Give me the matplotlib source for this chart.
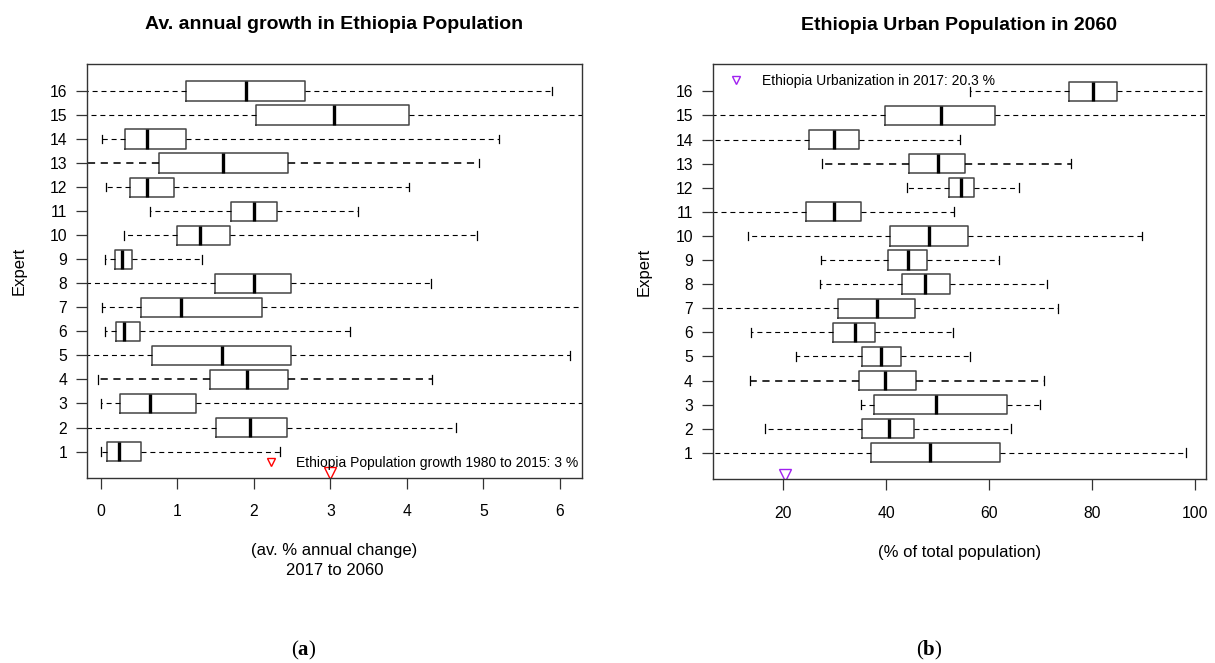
import matplotlib
matplotlib.use("Agg")
import matplotlib.pyplot as plt
from matplotlib.lines import Line2D

plt.rcParams["font.family"] = ["Liberation Sans", "DejaVu Sans"]
plt.rcParams["mathtext.fontset"] = "custom"
plt.rcParams["mathtext.rm"] = "Liberation Serif"
plt.rcParams["mathtext.bf"] = "Liberation Serif:bold"

experts = list(range(1, 17))

# (a) average annual growth, % per year, experts 1..16
growth_lo = [0.00, -0.5, 0.00, -0.03, -0.5, 0.05, 0.01, -0.5, 0.05, 0.31, 0.64, 0.07, -0.5, 0.01, -0.5, -0.5]
growth_q1 = [0.08, 1.50, 0.25, 1.43, 0.67, 0.20, 0.52, 1.49, 0.18, 0.99, 1.70, 0.38, 0.76, 0.32, 2.03, 1.12]
growth_med = [0.24, 1.95, 0.64, 1.91, 1.59, 0.31, 1.05, 2.00, 0.28, 1.30, 2.00, 0.61, 1.60, 0.61, 3.05, 1.90]
growth_q3 = [0.53, 2.44, 1.25, 2.45, 2.49, 0.51, 2.11, 2.49, 0.41, 1.69, 2.31, 0.96, 2.45, 1.11, 4.03, 2.67]
growth_hi = [2.34, 4.64, 6.6, 4.33, 6.13, 3.26, 6.6, 4.31, 1.32, 4.92, 3.36, 4.03, 4.94, 5.21, 6.6, 5.90]
growth_hist = 3.0
growth_label = "Ethiopia Population growth 1980 to 2015: 3 %"

# (b) urban share in 2060, % of total population
urban_lo = [2, 16.4, 35.0, 13.6, 22.5, 13.8, 2, 27.1, 27.3, 13.1, 2, 44.0, 27.6, 2, 2, 56.3]
urban_q1 = [37.1, 35.2, 37.7, 34.8, 35.2, 29.7, 30.7, 43.0, 40.3, 40.8, 24.5, 52.1, 44.5, 25.0, 39.8, 75.4]
urban_med = [48.5, 40.5, 49.6, 39.8, 39.0, 33.9, 38.3, 47.6, 44.3, 48.4, 29.8, 54.6, 50.1, 29.9, 50.6, 80.1]
urban_q3 = [62.0, 45.4, 63.4, 45.7, 42.8, 37.8, 45.6, 52.3, 47.9, 55.9, 35.0, 57.0, 55.3, 34.8, 61.2, 84.8]
urban_hi = [98.3, 64.3, 69.9, 70.6, 56.3, 53.0, 73.3, 71.2, 61.9, 89.7, 53.2, 65.7, 75.8, 54.3, 110, 110]
urban_2017 = 20.3
urban_label = "Ethiopia Urbanization in 2017: 20.3 %"

bold_rows = [4, 13]


def draw_panel(ax, lo, q1, med, q3, hi, xlim, xticks):
    stats = []
    for i in range(len(experts)):
        stats.append({"whislo": lo[i], "q1": q1[i], "med": med[i],
                      "q3": q3[i], "whishi": hi[i], "fliers": []})
    bp = ax.bxp(stats, positions=experts, vert=False, widths=0.8,
                capwidths=0.36, showfliers=False, patch_artist=False,
                boxprops=dict(color="#444444", lw=1.1),
                medianprops=dict(color="black", lw=2.4, solid_capstyle="butt"),
                whiskerprops=dict(color="black", lw=0.8, linestyle=(0, (4.5, 3.5))),
                capprops=dict(color="black", lw=0.9))
    for k, e in enumerate(experts):
        if e in bold_rows:
            for w in bp["whiskers"][2 * k:2 * k + 2]:
                w.set_linewidth(1.15)
    ax.set_xlim(*xlim)
    ax.set_ylim(-0.1, 17.12)
    ax.set_xticks(xticks)
    ax.set_yticks(experts)
    ax.set_yticklabels([str(e) for e in experts])
    ax.tick_params(axis="y", length=7.7, width=0.9, pad=6.5, labelsize=11.3, color="#333333")
    ax.tick_params(axis="x", length=8, width=0.9, pad=11, labelsize=11.3, color="#333333")
    for s in ax.spines.values():
        s.set_color("#333333")
        s.set_linewidth(1.0)
    ax.set_ylabel("Expert", fontsize=12)


fig = plt.figure(figsize=(12.15, 6.63), dpi=100)
ax1 = fig.add_axes([0.0716, 0.279, 0.4074, 0.6244])
ax2 = fig.add_axes([0.5866, 0.277, 0.4060, 0.6260])

draw_panel(ax1, growth_lo, growth_q1, growth_med, growth_q3, growth_hi,
           (-0.18, 6.29), [0, 1, 2, 3, 4, 5, 6])
ax1.plot([growth_hist], [0.1], marker="v", ms=8, mfc="none", mec="red", mew=1.0, ls="none")
ax1.legend(handles=[Line2D([], [], marker="v", ms=5.5, mfc="none", mec="red", mew=1.0, ls="none")],
           labels=[growth_label], loc="center left", bbox_to_anchor=(0.344, 0.036),
           frameon=False, fontsize=10, borderpad=0, handlelength=1.0, handletextpad=1.3)
ax1.set_title("Av. annual growth in Ethiopia Population", fontsize=14, fontweight="bold", pad=25)
ax1.set_xlabel("(av. % annual change)\n2017 to 2060", fontsize=12, linespacing=1.4)
ax1.xaxis.set_label_coords(0.5, -0.158)
ax1.yaxis.set_label_coords(-0.121, 0.5)

draw_panel(ax2, urban_lo, urban_q1, urban_med, urban_q3, urban_hi,
           (6.3, 102.1), [20, 40, 60, 80, 100])
ax2.plot([urban_2017], [0.1], marker="v", ms=8, mfc="none", mec="#a020f0", mew=1.0, ls="none")
ax2.legend(handles=[Line2D([], [], marker="v", ms=5.5, mfc="none", mec="#a020f0", mew=1.0, ls="none")],
           labels=[urban_label], loc="center left", bbox_to_anchor=(0.019, 0.96),
           frameon=False, fontsize=10, borderpad=0, handlelength=1.0, handletextpad=1.38)
ax2.set_title("Ethiopia Urban Population in 2060", fontsize=14, fontweight="bold", pad=25)
ax2.set_xlabel("(% of total population)", fontsize=12)
ax2.xaxis.set_label_coords(0.5, -0.158)
ax2.yaxis.set_label_coords(-0.123, 0.5)

fig.text(304 / 1215, 1 - 650 / 663, r"$\mathrm{(}\mathbf{a}\mathrm{)}$", fontsize=15, ha="center", va="center")
fig.text(929 / 1215, 1 - 650 / 663, r"$\mathrm{(}\mathbf{b}\mathrm{)}$", fontsize=15, ha="center", va="center")

fig.savefig("out.png", dpi=100)
